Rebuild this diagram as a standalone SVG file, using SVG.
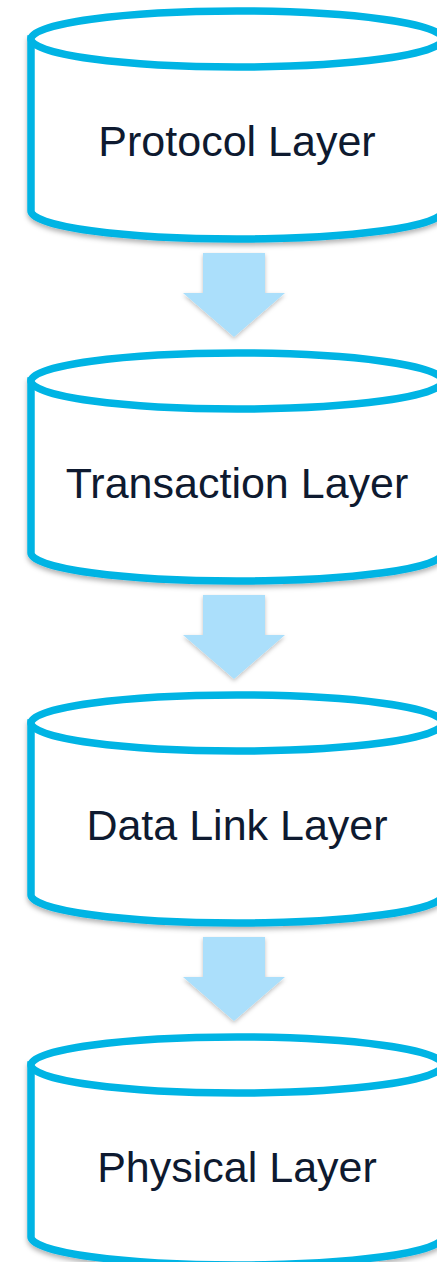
<svg xmlns="http://www.w3.org/2000/svg" width="437" height="1262" viewBox="0 0 437 1262">
  <style>
    .body { fill: #ffffff; stroke: #00b4e4; stroke-width: 7.5; filter: url(#shadow); }
    .lid { fill: #ffffff; stroke: #00b4e4; stroke-width: 7.5; }
    .label { font-family: "Liberation Sans", Arial, sans-serif; font-size: 43px; fill: #0e1a30; text-anchor: middle; }
    .arrow { fill: #abdffb; filter: url(#ashadow); }
  </style>
  <defs>
    <filter id="shadow" x="-10%" y="-10%" width="120%" height="130%">
      <feDropShadow dx="0" dy="3" stdDeviation="2.5" flood-color="#000" flood-opacity="0.3"/>
    </filter>
    <filter id="ashadow" x="-20%" y="-20%" width="140%" height="140%">
      <feDropShadow dx="0" dy="2" stdDeviation="2" flood-color="#000" flood-opacity="0.25"/>
    </filter>
    <!-- cylinder shape: lid centre at (237, 0) -->
    <g id="cyl">
      <path class="body" d="M31,0 L31,172 A206,28 0 0 0 443,172 L443,0 Z"/>
      <ellipse class="lid" cx="237" cy="0" rx="206" ry="28"/>
    </g>
    <polygon id="down" points="203,253 265,253 265,293 285,293 234,337 183,293 203,293"/>
  </defs>

  <g id="connectors">
    <use href="#down" class="arrow"/>
    <use href="#down" class="arrow" y="342"/>
    <use href="#down" class="arrow" y="684"/>
  </g>

  <g id="protocol-layer">
    <use href="#cyl" y="39"/>
    <text class="label" x="237" y="156">Protocol Layer</text>
  </g>
  <g id="transaction-layer">
    <use href="#cyl" y="381"/>
    <text class="label" x="237" y="498">Transaction Layer</text>
  </g>
  <g id="data-link-layer">
    <use href="#cyl" y="723"/>
    <text class="label" x="237" y="840">Data Link Layer</text>
  </g>
  <g id="physical-layer">
    <use href="#cyl" y="1065"/>
    <text class="label" x="237" y="1182">Physical Layer</text>
  </g>
</svg>
